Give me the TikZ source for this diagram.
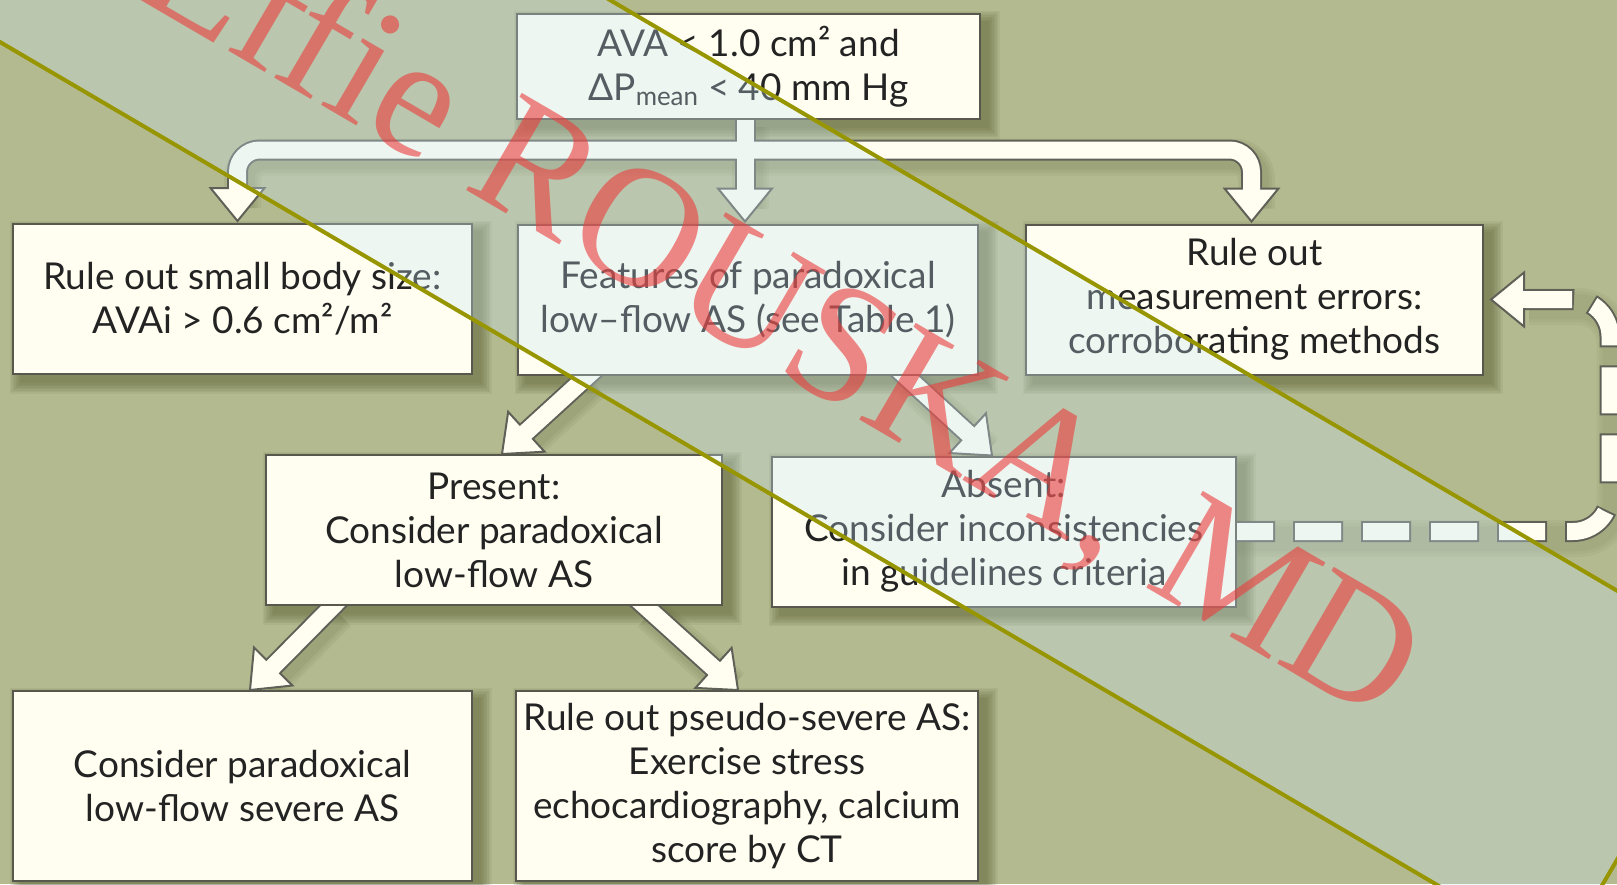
\documentclass[tikz,border=0pt]{standalone}
\usepackage{fontspec}
\setmainfont{Lato}
\newfontfamily\stampfont{Liberation Serif}
\usetikzlibrary{calc}

\pgfdeclarelayer{bglayer}
\pgfdeclarelayer{shadowlayer}
\pgfdeclarelayer{arrowlayer}
\pgfsetlayers{bglayer,shadowlayer,arrowlayer,main}

\definecolor{olivebg}{RGB}{180,186,143}
\definecolor{cream}{RGB}{255,254,241}
\definecolor{boxline}{RGB}{88,88,78}
\definecolor{arrowline}{RGB}{95,97,88}
\definecolor{shadowc}{RGB}{78,84,40}
\definecolor{veil}{RGB}{200,229,243}
\definecolor{bandline}{RGB}{152,150,0}
\definecolor{stamp}{RGB}{235,60,60}
\definecolor{ink}{RGB}{35,35,35}

% block arrow head: #1 tip, #2 a point behind the tip on the shaft
\newcommand\fathead[2]{%
  \path ($(#1)!33pt!(#2)$) coordinate (hb);
  \filldraw[headst] ($(hb)!27pt!90:(#1)$) -- (#1) -- ($(hb)!27pt!-90:(#1)$) -- cycle;}
% straight block arrow from #1 to #2
\newcommand\fatarrow[2]{%
  \draw[shaftline] ($(#1)!-14pt!(#2)$) -- ($(#2)!33pt!(#1)$);
  \fathead{#2}{#1}%
  \draw[shaftfill] ($(#1)!-14pt!(#2)$) -- ($(#2)!29pt!(#1)$);}

\begin{document}
\begin{tikzpicture}[x=1pt,y=-1pt,
  flowbox/.style={draw=boxline, line width=2pt, fill=cream, inner sep=0pt,
    align=center, text=ink, font=\fontsize{37}{44}\selectfont,
    minimum width=460, minimum height=150},
  shaftline/.style={draw=arrowline, line width=21pt},
  shaftfill/.style={draw=cream, line width=17pt},
  headst/.style={fill=cream, draw=arrowline, line width=2pt, line join=miter},
  stampst/.style={anchor=base west, rotate=-30.3, inner sep=0pt, text=stamp,
    text opacity=.6, font=\stampfont\fontsize{171}{171}\selectfont}]

\useasboundingbox (0,0) rectangle (1617,884);
\begin{pgfonlayer}{bglayer}
  \fill[olivebg] (0,0) rectangle (1617,884);
\end{pgfonlayer}

% boxes
\node[flowbox, minimum width=463, minimum height=105] (crit) at (748.5,66.5)
  {AVA < 1.0 cm² and\\ΔP\textsubscript{mean} < 40 mm Hg};
\node[flowbox, minimum width=459] (small) at (242.5,299)
  {Rule out small body size:\\AVAi > 0.6 cm²/m²};
\node[flowbox] (feat) at (748,299.5)
  {Features of paradoxical\\low–flow AS (see Table 1)};
\node[flowbox, minimum width=457] (meas) at (1254.5,299.5)
  {Rule out\\measurement errors:\\corroborating methods};
\node[flowbox, minimum width=456] (pres) at (494,530)
  {Present:\\Consider paradoxical\\low-flow AS};
\node[flowbox, minimum width=464] (absent) at (1004,531.5)
  {Absent:\\Consider inconsistencies\\in guidelines criteria};
\node[flowbox, minimum width=459, minimum height=190] (lfsev) at (242.5,786)
  {Consider paradoxical\\low-flow severe AS};
\node[flowbox, minimum width=462, minimum height=190] (pseudo) at (747,786)
  {Rule out pseudo-severe AS:\\Exercise stress\\echocardiography, calcium\\score by CT};

% connector geometry
\coordinate (bar) at (0,150);
\coordinate (tl) at ($(small.north)+(-5,-2)$);
\coordinate (tc) at ($(feat.north)+(-3,-2)$);
\coordinate (tr) at ($(meas.north)+(-3,-2)$);
\coordinate (d1s) at ($(feat.south)+(-160,0)$);
\coordinate (d1t) at ($(pres.north)+(8,0)$);
\coordinate (d2s) at ($(feat.south)+(157,0)$);
\coordinate (d2t) at ($(absent.north)+(-12,0)$);
\coordinate (d3s) at ($(pres.south)+(-161,0)$);
\coordinate (d3t) at ($(lfsev.north)+(7.5,0)$);
\coordinate (d4s) at ($(pres.south)+(151,0)$);
\coordinate (d4t) at ($(pseudo.north)+(-9,0)$);
\coordinate (loopx) at (1610,0);
\coordinate (mtip) at ($(meas.east)+(7,0)$);
\coordinate (cTop) at (loopx |- meas.east);
\coordinate (cBot) at (loopx |- absent.east);
\coordinate (cMid) at ($(cBot)+(0,-37)$);
\coordinate (hbase) at ($(mtip)!33pt!(cTop)$);
\coordinate (bstart) at ($(absent.east)+(-36,0)$);

% soft shadows
\begin{pgfonlayer}{shadowlayer}
  \foreach \n in {crit,small,feat,meas,pres,absent,lfsev,pseudo}{
    \foreach \e in {0,1.5,...,10.5}{
      \fill[shadowc, opacity=.075] ($(\n.north west)+(8-\e,8-\e)$)
        rectangle ($(\n.south east)+(8+\e,8+\e)$);}}
  \begin{scope}[transform canvas={shift={(5,7)}}]
    \foreach \w in {25,31,37}{
      \draw[shadowc, opacity=.07, line width=\w, rounded corners=22]
        ($(tl)+(0,-20)$) -- (tl |- bar) -- (tr |- bar) -- ($(tr)+(0,-20)$);
      \draw[shadowc, opacity=.07, line width=\w] (tc |- crit.south) -- ($(tc)+(0,-20)$);
      \foreach \s/\t in {d1s/d1t,d2s/d2t,d3s/d3t,d4s/d4t}{
        \draw[shadowc, opacity=.07, line width=\w] (\s) -- ($(\t)!15pt!(\s)$);}
      \draw[shadowc, opacity=.05, line width=\w, rounded corners=37]
        (hbase) -- (cTop) -- (cBot) -- (bstart);}
  \end{scope}
\end{pgfonlayer}

% block arrows
\begin{pgfonlayer}{arrowlayer}
  \draw[shaftline, rounded corners=22]
    ($(tl)+(0,-33)$) -- (tl |- bar) -- (tr |- bar) -- ($(tr)+(0,-33)$);
  \draw[shaftline] (tc |- crit.center) -- ($(tc)+(0,-33)$);
  \fathead{tl}{tl |- bar}
  \fathead{tc}{tc |- crit.center}
  \fathead{tr}{tr |- bar}
  \draw[shaftfill, rounded corners=22]
    ($(tl)+(0,-29)$) -- (tl |- bar) -- (tr |- bar) -- ($(tr)+(0,-29)$);
  \draw[shaftfill] (tc |- crit.center) -- ($(tc)+(0,-29)$);

  \fatarrow{d1s}{d1t}
  \fatarrow{d2s}{d2t}
  \fatarrow{d3s}{d3t}
  \fatarrow{d4s}{d4t}

  % dashed feedback loop from "Absent" back to the measurement box
  \draw[shaftline, dash pattern=on 50pt off 18pt, rounded corners=37]
    (hbase) -- (cTop) -- (cMid);
  \draw[shaftline, dash pattern=on 50pt off 18pt, dash phase=44pt, rounded corners=37]
    (bstart) -- (cBot) -- (cMid);
  \fathead{mtip}{cTop}
  \draw[shaftfill] ($(mtip)!29pt!(cTop)$) -- ($(mtip)!40pt!(cTop)$);
  \draw[shaftfill, dash pattern=on 46pt off 22pt, dash phase=66pt, rounded corners=37]
    (hbase) -- (cTop) -- (cMid);
  \draw[shaftfill, dash pattern=on 46pt off 22pt, dash phase=42pt, rounded corners=37]
    (bstart) -- (cBot) -- (cMid);
\end{pgfonlayer}

% diagonal translucent band
\fill[veil, opacity=.3] (-50,12.7) -- (1560,957) -- (1734.5,659.6) -- (-50,-387.1) -- cycle;
\draw[bandline, line width=4pt, line join=miter]
  (-50,12.7) -- (1560,957) -- (1734.5,659.6) -- (-50,-387.1) -- cycle;

% signature
\node[stampst] (stampmark) at (132,-5) {Effie ROUSKA, MD};
\end{tikzpicture}
\end{document}
